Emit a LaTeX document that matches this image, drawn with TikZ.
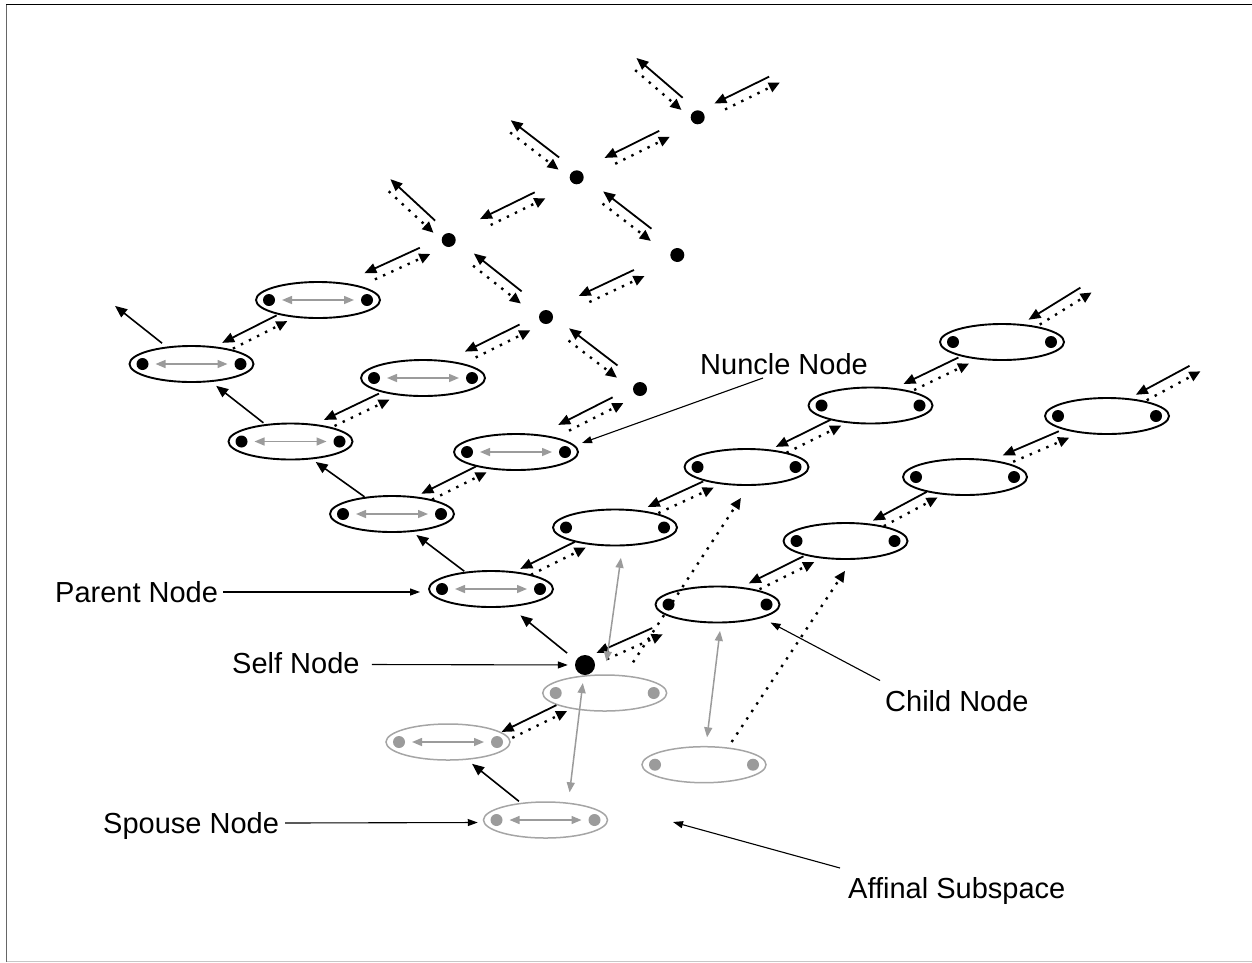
\documentclass[tikz,border=0pt]{standalone}
\usepackage{fontspec}
\setmainfont{Liberation Sans}
\usetikzlibrary{arrows.meta,calc,shapes.geometric}

\definecolor{linegray}{RGB}{155,155,155}
\definecolor{ringgray}{RGB}{165,165,165}
\definecolor{dotgray}{RGB}{155,155,155}

\tikzset{
  couple/.style={ellipse, draw=black, line width=1.9pt, minimum width=124pt,
                 minimum height=36pt, inner sep=0pt},
  affine/.style={couple, draw=ringgray, line width=1.5pt},
  person/.style={circle, fill=black, minimum size=14pt, inner sep=0pt},
  ego/.style={circle, fill=black, minimum size=20pt, inner sep=0pt},
  pairsolid/.style={line width=1.8pt, -{Triangle[length=12pt,width=10pt]}},
  pairdot/.style={line width=2.4pt, dash pattern=on 2.4pt off 6.6pt,
                  -{Triangle[length=11pt,width=10pt]}},
  descent/.style={line width=1.6pt, -{Triangle[length=12pt,width=10pt]}},
  marriage/.style={draw=linegray, line width=1.5pt,
                   {Triangle[length=10pt,width=8pt]}-{Triangle[length=10pt,width=8pt]}},
  pointer/.style={line width=1.1pt, -{Triangle[length=10pt,width=7pt]}},
  caption/.style={font=\fontsize{29}{34}\selectfont, inner sep=0pt, anchor=base west},
}

% two opposite links between neighbours: solid towards #2, dotted towards #1
\newcommand\linkpair[2]{%
  \path (#1) -- coordinate[pos=0.5] (pm) (#2);
  \draw[pairsolid] ($(pm)!27.46pt!10.5:(#1)$) -- ($(pm)!34.37pt!-8.4:(#2)$);
  \draw[pairdot]   ($(pm)!27.46pt!10.5:(#2)$) -- ($(pm)!34.37pt!-8.4:(#1)$);
}
% single descent link from #1 up to #2
\newcommand\linkone[2]{%
  \path (#1) -- coordinate[pos=0.5] (pm) (#2);
  \draw[descent] ($(pm)!30.07pt!-3.8:(#1)$) -- ($(pm)!30.07pt!3.8:(#2)$);
}
% the two partner dots of a couple, with an optional bond between them
\newcommand\partners[2]{%
  \fill[#2] ($(#1)+(-49,0)$) circle (6pt) ($(#1)+(49,0)$) circle (6pt);}
\newcommand\bond[1]{%
  \draw[marriage] ($(#1)+(-36,0)$) -- ($(#1)+(36,0)$);}

\begin{document}
\begin{tikzpicture}[x=1pt,y=-1pt]
\useasboundingbox (0,0) rectangle (1252,962);

% frame
\draw[black, line width=1pt] (6,4.5) -- (1252,4.5);
\draw[black!60, line width=1pt] (6.5,4.5) -- (6.5,962);
\draw[black!22, line width=1pt] (6.5,961) -- (1252,961);

% ancestors and their siblings
\node[couple] (P4) at (191.5,364) {};
\node[couple] (P3) at (290.5,441.5) {};
\node[couple] (P2) at (392,514) {};
\node[couple] (P1) at (491,589) {};
\node[couple] (Q4) at (318,300) {};
\node[couple] (Q3) at (423,378) {};
\node[couple] (Q2) at (516,452) {};
\foreach \n in {P1,P2,P3,P4,Q2,Q3,Q4} {\partners{\n}{black}\bond{\n}}

% self
\node[ego] (S) at (585,665) {};

% single persons further out
\node[person] (T1) at (697.7,117.3) {};
\node[person] (T2) at (576.7,177.3) {};
\node[person] (T3) at (448.7,240) {};
\node[person] (T4) at (677.3,255) {};
\node[person] (T5) at (546,317) {};
\node[person] (T6) at (640,389) {};

% descendants
\node[couple] (C1) at (717.5,604.5) {};
\node[couple] (C2) at (615,527.5) {};
\node[couple] (C3) at (746.5,467) {};
\node[couple] (C4) at (870.5,405.5) {};
\node[couple] (C5) at (1002,342) {};
\node[couple] (D1) at (845.5,541) {};
\node[couple] (D2) at (965,477) {};
\node[couple] (D3) at (1107,416) {};
\foreach \n in {C1,C2,C3,C4,C5,D1,D2,D3} {\partners{\n}{black}}

% affinal couples
\node[affine] (G1) at (604.7,693) {};
\node[affine] (G2) at (448,742) {};
\node[affine] (G3) at (545.5,820) {};
\node[affine] (G4) at (704,764.7) {};
\foreach \n in {G1,G2,G3,G4} {\partners{\n}{dotgray}}
\bond{G2}\bond{G3}

% open ends of the lattice
\coordinate (T1ne) at (790,72);
\coordinate (T1nw) at (625.6,55.3);
\coordinate (T2nw) at (498.3,117);
\coordinate (T3nw) at (380.4,176.8);
\coordinate (P4nw) at (110.4,299.7);
\coordinate (C5ne) at (1090.6,287.2);
\coordinate (D3ne) at (1198.6,366.6);
\coordinate (g1p) at ($(G1)+(-10,-1)$);
\coordinate (g2p) at ($(G2)+(26,9)$);
\coordinate (sp) at ($(S)+(-8,2)$);

% sibling links
\linkpair{Q4}{P4}
\linkpair{T3}{Q4}
\linkpair{T2}{T3}
\linkpair{T1}{T2}
\linkpair{T1ne}{T1}
\linkpair{Q3}{P3}
\linkpair{T5}{Q3}
\linkpair{T4}{T5}
\linkpair{Q2}{P2}
\linkpair{T6}{Q2}
\linkpair{C2}{P1}
\linkpair{C3}{C2}
\linkpair{C4}{C3}
\linkpair{C5}{C4}
\linkpair{C5ne}{C5}
\linkpair{C1}{sp}
\linkpair{D1}{C1}
\linkpair{D2}{D1}
\linkpair{D3}{D2}
\linkpair{D3ne}{D3}
\linkpair{g1p}{g2p}

% parent links among single persons
\linkpair{T5}{T3}
\linkpair{T6}{T5}
\linkpair{T4}{T2}
\linkpair{T3}{T3nw}
\linkpair{T2}{T2nw}
\linkpair{T1}{T1nw}

% descent chain
\linkone{S}{P1}
\linkone{P1}{P2}
\linkone{P2}{P3}
\linkone{P3}{P4}
\linkone{P4}{P4nw}
\linkone{G3}{G2}

% spouse links
\draw[marriage, shorten <=13pt, shorten >=11.5pt] (G1.north) -- ([xshift=7.5pt]C2.south);
\draw[marriage, shorten <=8pt, shorten >=9pt] (S) -- ([xshift=23pt]G3.north);
\draw[marriage, shorten <=7.5pt, shorten >=8.7pt] ([xshift=3.4pt]C1.south) -- ([xshift=2pt]G4.north);

% in-law links
\draw[pairdot, shorten <=14.3pt, shorten >=14.3pt] ([xshift=20.5pt]G1.north) -- ([xshift=2.3pt]C3.south);
\draw[pairdot, shorten <=4.8pt, shorten >=13pt] ([xshift=25pt]G4.north) -- ([xshift=6.7pt]D1.south);

% captions
\node[caption] (lparent) at (55,602.5) {Parent Node};
\node[caption] (lself) at (232,673.5) {Self Node};
\node[caption] (lspouse) at (103,833.5) {Spouse Node};
\node[caption] (lnuncle) at (700,374) {Nuncle Node};
\node[caption] (lchild) at (885,711.5) {Child Node};
\node[caption] (laffinal) at (848,898.5) {Affinal Subspace};
\coordinate (affinal) at (673,822);

\draw[pointer] ([xshift=5pt,yshift=10.5pt]lparent.base east) -- ([xshift=-8pt,yshift=-3pt]P1.west);
\draw[pointer, shorten >=7pt] ([xshift=12pt,yshift=9pt]lself.base east) -- (S);
\draw[pointer] ([xshift=6pt,yshift=10.5pt]lspouse.base east) -- ([xshift=-5pt,yshift=-2.5pt]G3.west);
\draw[pointer] ([xshift=63pt,yshift=-4pt]lnuncle.base west) -- ($(Q2)+(66,-9)$);
\draw[pointer] ([xshift=-5pt,yshift=31pt]lchild.base west) -- ($(C1)+(53,18)$);
\draw[pointer] ([xshift=-8pt,yshift=30.5pt]laffinal.base west) -- (affinal);
\end{tikzpicture}
\end{document}
